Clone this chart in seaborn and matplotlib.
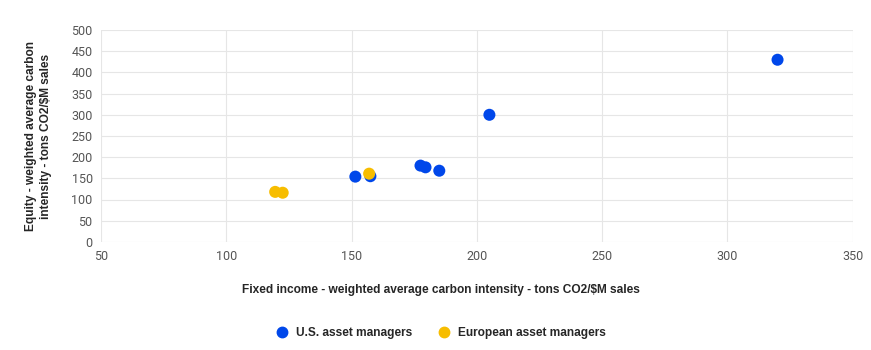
import pandas as pd
import matplotlib.pyplot as plt
import seaborn as sns

us_fixed = [320, 205, 177.5, 179.5, 185, 151.5, 157.5]
us_equity = [430, 300, 180, 176, 168, 154, 155]
eu_fixed = [119.5, 122.5, 157]
eu_equity = [118, 116, 161]

groups = ['U.S. asset managers', 'European asset managers']
colors = ['#0047ea', '#f7bd00']

df = pd.concat([
    pd.DataFrame({'fixed': us_fixed, 'equity': us_equity, 'group': groups[0]}),
    pd.DataFrame({'fixed': eu_fixed, 'equity': eu_equity, 'group': groups[1]}),
])

sns.set_style('white')
plt.rcParams['font.family'] = ['Roboto', 'DejaVu Sans']

fig = plt.figure(figsize=(8.71, 3.5), dpi=100)
ax = fig.add_axes([0.116, 0.309, 0.863, 0.605])

sns.scatterplot(data=df, x='fixed', y='equity', hue='group', palette=colors,
                s=75, edgecolor='none', ax=ax, legend=False, zorder=3)

ax.set_xlim(50, 350)
ax.set_ylim(0, 500)
ax.set_xticks(range(50, 351, 50))
ax.set_yticks(range(0, 501, 50))
ax.grid(True, color='#e6e6e6', linewidth=0.8)
for s in ax.spines.values():
    s.set_visible(False)
ax.tick_params(axis='both', length=0, labelsize=9, labelcolor='#555555', pad=6)

bold = {'family': ['Liberation Sans', 'DejaVu Sans'], 'weight': 'bold', 'size': 8.6}
ax.set_xlabel('Fixed income - weighted average carbon intensity - tons CO2/$M sales',
              fontdict=bold)
ax.xaxis.set_label_coords(0.452, -0.2)
ax.set_ylabel('Equity - weighted average carbon\nintensity - tons CO2/$M sales',
              fontdict=bold, labelpad=14, linespacing=1.3)

handles = [plt.Line2D([], [], marker='o', linestyle='', color=c, markersize=7.5)
           for c in colors]
fig.legend(handles, groups, loc='center', bbox_to_anchor=(0.503, 0.049), ncol=2,
           frameon=False, prop=bold, handletextpad=0.2, columnspacing=1.6)

fig.savefig('out.png', dpi=100)
